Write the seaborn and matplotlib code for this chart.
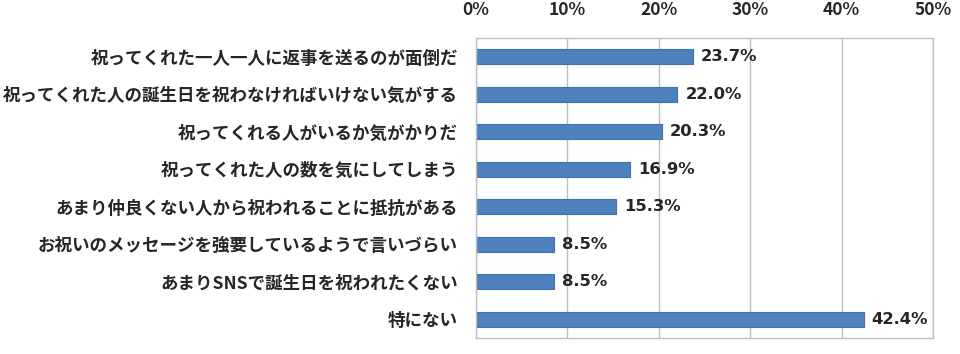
import matplotlib
matplotlib.use("Agg")
import matplotlib.pyplot as plt
import seaborn as sns
import pandas as pd

# data
categories = [
    "祝ってくれた一人一人に返事を送るのが面倒だ",
    "祝ってくれた人の誕生日を祝わなければいけない気がする",
    "祝ってくれる人がいるか気がかりだ",
    "祝ってくれた人の数を気にしてしまう",
    "あまり仲良くない人から祝われることに抵抗がある",
    "お祝いのメッセージを強要しているようで言いづらい",
    "あまりSNSで誕生日を祝われたくない",
    "特にない",
]
values = [23.7, 22.0, 20.3, 16.9, 15.3, 8.5, 8.5, 42.4]
ticks = [0, 10, 20, 30, 40, 50]

df = pd.DataFrame({"cat": categories, "val": values})

sns.set_style("white")
plt.rcParams["font.family"] = ["Noto Sans CJK JP", "DejaVu Sans"]

fig = plt.figure(figsize=(9.6, 3.54), dpi=100)
ax = fig.add_axes([0.4958, 0.0452, 0.4761, 0.8475])

sns.barplot(data=df, x="val", y="cat", orient="h", color="#4F81BD",
            saturation=1, width=0.39, edgecolor="#3F72AE", linewidth=0.8, ax=ax)

ax.set_xlim(0, 50)
ax.set_xticks(ticks)
ax.set_xticklabels([f"{t}%" for t in ticks], fontsize=12.5, fontweight="bold")
ax.xaxis.tick_top()
ax.tick_params(axis="x", length=0, pad=14)
ax.tick_params(axis="y", length=0, pad=13)
for lab in ax.get_yticklabels():
    lab.set_fontsize(12.6)
    lab.set_fontweight("bold")
ax.set_xlabel("")
ax.set_ylabel("")
ax.grid(axis="x", color="#BFBFBF", linewidth=1)
ax.set_axisbelow(True)
for s in ax.spines.values():
    s.set_color("#BFBFBF")
    s.set_linewidth(1)

for i, v in enumerate(values):
    ax.text(v + 0.9, i, f"{v:.1f}%", va="center", ha="left",
            fontsize=11.8, fontweight="bold", family=["DejaVu Sans"])

fig.savefig("out.png", dpi=100)
